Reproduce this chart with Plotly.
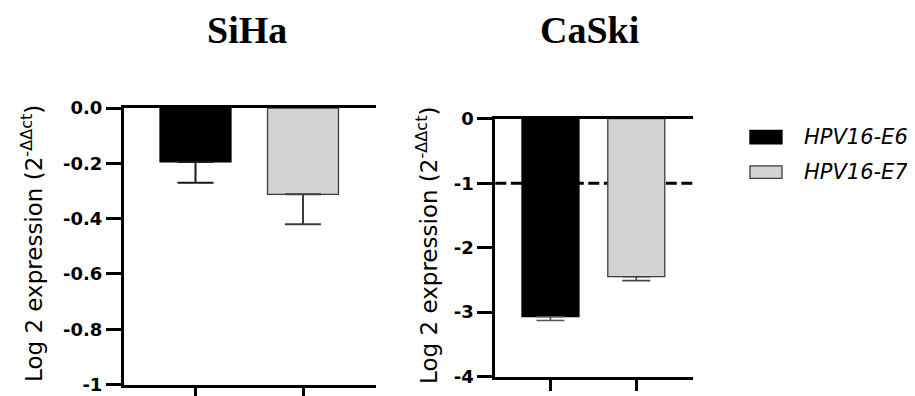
import plotly.graph_objects as go

# ---- data ----
genes = ["HPV16-E6", "HPV16-E7"]
cell_lines = ["SiHa", "CaSki"]
siha_mean = [-0.195, -0.312]
siha_sd = [0.075, 0.108]
caski_mean = [-3.07, -2.45]
caski_sd = [0.06, 0.06]
siha_tickvals = [0, -0.2, -0.4, -0.6, -0.8, -1]
siha_ticktext = ["0.0", "-0.2", "-0.4", "-0.6", "-0.8", "-1"]
caski_tickvals = [0, -1, -2, -3, -4]
caski_ticktext = ["0", "-1", "-2", "-3", "-4"]
caski_threshold = -1
y_title = "Log 2 expression (2<sup>-ΔΔct</sup>)"

# ---- styles ----
fills = ["#000000", "#d3d3d3"]
outlines = ["#000000", "#3c3c3c"]
err_colors_siha = ["#1a1a1a", "#3c3c3c"]
err_colors_caski = ["#555555", "#444444"]
SANS = "DejaVu Sans, Arial, sans-serif"
SERIF = "Liberation Serif, Times New Roman, serif"

fig = go.Figure()

for i, g in enumerate(genes):
    fig.add_bar(
        x=[g], y=[siha_mean[i]], name=g, showlegend=False,
        width=0.66, xaxis="x", yaxis="y",
        marker=dict(color=fills[i], line=dict(color=outlines[i], width=1.3)),
        error_y=dict(type="data", symmetric=False, array=[0], arrayminus=[siha_sd[i]],
                     color=err_colors_siha[i], thickness=2, width=18),
    )
for i, g in enumerate(genes):
    fig.add_bar(
        x=[g], y=[caski_mean[i]], name=g, showlegend=False,
        width=0.664, xaxis="x2", yaxis="y2",
        marker=dict(color=fills[i], line=dict(color=outlines[i], width=1.3)),
        error_y=dict(type="data", symmetric=False, array=[0], arrayminus=[caski_sd[i]],
                     color=err_colors_caski[i], thickness=1.6, width=14),
    )

xcommon = dict(type="category", categoryorder="array", categoryarray=genes,
               showline=True, linecolor="black", linewidth=3, mirror=True,
               ticks="outside", ticklen=11, tickwidth=2.5, tickcolor="black",
               showticklabels=False, showgrid=False, zeroline=False)
ycommon = dict(showline=True, linecolor="black", linewidth=3,
               ticks="outside", ticklen=15, tickwidth=2.5, tickcolor="black",
               showgrid=False, zeroline=False,
               tickfont=dict(family=SANS, size=18, color="black", weight="bold"))

fig.update_layout(
    width=915, height=396,
    margin=dict(l=0, r=0, t=0, b=0),
    paper_bgcolor="white", plot_bgcolor="white",
    barmode="overlay",
    xaxis=dict(domain=[0.12678, 0.40219], anchor="y", range=[-0.665, 1.679], **xcommon),
    yaxis=dict(domain=[0.02525, 0.76263], anchor="x", range=[-1, 0],
               tickmode="array", tickvals=siha_tickvals, ticktext=siha_ticktext, **ycommon),
    xaxis2=dict(domain=[0.53257, 0.74863], anchor="y2", range=[-0.643, 1.661], **xcommon),
    yaxis2=dict(domain=[0.04621, 0.73409], anchor="x2", range=[-4, 0],
                tickmode="array", tickvals=caski_tickvals, ticktext=caski_ticktext, **ycommon),
    showlegend=False,
)

# dashed reference line in CaSki panel
fig.add_shape(type="line", xref="x2 domain", yref="y2", x0=0, x1=1,
              y0=caski_threshold, y1=caski_threshold, layer="below",
              line=dict(color="black", width=3, dash="11px,4.5px"))

# panel titles
for name, xc in zip(cell_lines, [0.2607, 0.6357]):
    fig.add_annotation(text="<b>%s</b>" % name, xref="paper", yref="paper",
                       x=xc, y=0.972, xanchor="center", yanchor="middle", showarrow=False,
                       font=dict(family=SERIF, size=38, color="black"))

# y-axis titles
for xc, yc in [(24 / 915, 0.40), (419 / 915, 0.395)]:
    fig.add_annotation(text=y_title, xref="paper", yref="paper", x=xc, y=yc,
                       xanchor="center", yanchor="middle", textangle=-90, showarrow=False,
                       font=dict(family=SANS, size=23, color="black"))

# legend (drawn as swatches + labels)
legend_rows = [(0.6674, 0.7028, 0.6851), (0.5750, 0.6086, 0.5917)]
for i, g in enumerate(genes):
    y0, y1, yc = legend_rows[i]
    fig.add_shape(type="rect", xref="paper", yref="paper", x0=0.8109, x1=0.8459,
                  y0=y0, y1=y1, fillcolor=fills[i], line=dict(color=outlines[i], width=1.3))
    fig.add_annotation(text="<i>%s</i>" % g, xref="paper", yref="paper", x=0.8678, y=yc,
                       xanchor="left", yanchor="middle", showarrow=False,
                       font=dict(family=SANS, size=21, color="black"))

fig.write_html("out.html")
